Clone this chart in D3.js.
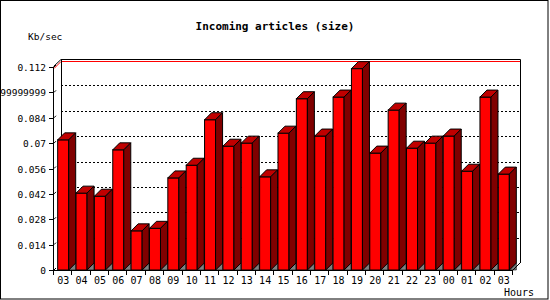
<!DOCTYPE html>
<html>
<head>
<meta charset="utf-8">
<script src="https://cdn.jsdelivr.net/npm/d3@7"></script>
<style>
  body { margin: 0; background: #fff; }
  svg { display: block; }
</style>
</head>
<body>
<div id="chart"></div>
<script>
// data
const hours = ["03","04","05","06","07","08","09","10","11","12","13","14","15",
               "16","17","18","19","20","21","22","23","00","01","02","03"];
const kbPerSec = [0.0718, 0.0424, 0.0407, 0.0663, 0.0216, 0.0230, 0.0508, 0.0578,
                  0.0829, 0.0683, 0.0700, 0.0514, 0.0755, 0.0945, 0.0739, 0.0954,
                  0.1111, 0.0645, 0.0882, 0.0672, 0.0700, 0.0739, 0.0545, 0.0954, 0.0529];
const tickValues = [0, 0.014, 0.028, 0.042, 0.056, 0.07, 0.084, 0.098, 0.112];
const tickLabels = ["0", "0.014", "0.028", "0.042", "0.056", "0.07", "0.084",
                    "0.09799999999999999", "0.112"];

const width = 550, height = 300;
const plotLeft = 54, plotRight = 513, plotTop = 67, plotBottom = 270;
const dx = 7, dy = 7;          // 3d depth offset
const mono = "'DejaVu Sans Mono', 'Liberation Mono', monospace";

const svg = d3.select("#chart").append("svg")
  .attr("width", width)
  .attr("height", height);

svg.append("rect")
  .attr("x", 0.5).attr("y", 0.5)
  .attr("width", width - 2.5).attr("height", height - 1.5)
  .attr("fill", "white").attr("stroke", "black");

const x = d3.scaleBand()
  .domain(d3.range(hours.length))
  .range([plotLeft, plotRight])
  .paddingInner(0.4)
  .paddingOuter(0.2);

const y = d3.scaleLinear()
  .domain([0, 0.112])
  .range([plotBottom, plotTop]);

// back wall
svg.append("rect")
  .attr("x", plotLeft + dx).attr("y", plotTop - dy)
  .attr("width", plotRight - plotLeft).attr("height", plotBottom - plotTop)
  .attr("fill", "white");

// dotted grid on the back wall
svg.selectAll("line.grid")
  .data(tickValues.slice(1, -1))
  .enter().append("line")
  .attr("x1", plotLeft + dx).attr("x2", plotRight + dx)
  .attr("y1", d => Math.round(y(d) - dy) + 0.5)
  .attr("y2", d => Math.round(y(d) - dy) + 0.5)
  .attr("stroke", "black")
  .attr("stroke-dasharray", "2,2");

// red max line
svg.append("polyline")
  .attr("points", [[plotLeft, plotTop + 1.5], [plotLeft + dx, plotTop - dy + 1.5],
                   [plotRight + dx, plotTop - dy + 1.5]].join(" "))
  .attr("fill", "none").attr("stroke", "red");

// wall borders
svg.append("polyline")
  .attr("points", [[plotLeft - 0.5, plotTop - 0.5], [plotLeft + dx, plotTop - dy - 0.5],
                   [plotRight + dx + 0.5, plotTop - dy - 0.5],
                   [plotRight + dx + 0.5, plotBottom - dy]].join(" "))
  .attr("fill", "none").attr("stroke", "black");
svg.append("line")
  .attr("x1", plotLeft + dx + 0.5).attr("x2", plotLeft + dx + 0.5)
  .attr("y1", plotTop - dy).attr("y2", plotBottom - dy)
  .attr("stroke", "black");

// bars
const bars = svg.selectAll("g.bar")
  .data(kbPerSec)
  .enter().append("g");

bars.append("polygon")
  .attr("points", (d, i) => {
    const x1 = x(i) + x.bandwidth();
    return [[x1, plotBottom], [x1 + dx, plotBottom - dy], [x1 + dx, plotBottom]].join(" ");
  })
  .attr("fill", "#808080").attr("stroke", "black").attr("stroke-width", 0.6);

bars.append("rect")
  .attr("x", (d, i) => x(i))
  .attr("y", d => y(d))
  .attr("width", x.bandwidth())
  .attr("height", d => plotBottom - y(d))
  .attr("fill", "#ff0000").attr("stroke", "black");

bars.append("polygon")
  .attr("points", (d, i) => {
    const x0 = x(i), x1 = x0 + x.bandwidth(), yt = y(d);
    return [[x0, yt], [x0 + dx, yt - dy], [x1 + dx, yt - dy], [x1, yt]].join(" ");
  })
  .attr("fill", "#c00000").attr("stroke", "black");

bars.append("polygon")
  .attr("points", (d, i) => {
    const x1 = x(i) + x.bandwidth(), yt = y(d);
    return [[x1, yt], [x1 + dx, yt - dy], [x1 + dx, plotBottom - dy], [x1, plotBottom]].join(" ");
  })
  .attr("fill", "#800000").attr("stroke", "black");

// floor edge at the right
svg.append("line")
  .attr("x1", plotRight).attr("y1", plotBottom)
  .attr("x2", plotRight + dx).attr("y2", plotBottom - dy)
  .attr("stroke", "black");

// y axis
svg.append("line")
  .attr("x1", plotLeft - 0.5).attr("x2", plotLeft - 0.5)
  .attr("y1", plotTop).attr("y2", plotBottom + 0.5)
  .attr("stroke", "black");
svg.selectAll("line.ytick")
  .data(tickValues)
  .enter().append("line")
  .attr("x1", plotLeft - 5).attr("x2", plotLeft)
  .attr("y1", d => Math.round(y(d)) + 0.5)
  .attr("y2", d => Math.round(y(d)) + 0.5)
  .attr("stroke", "black");
svg.selectAll("line.ydiag")
  .data(tickValues)
  .enter().append("line")
  .attr("x1", plotLeft).attr("x2", plotLeft + 2)
  .attr("y1", d => y(d)).attr("y2", d => y(d) - 2)
  .attr("stroke", "black");
svg.selectAll("text.ylab")
  .data(tickValues)
  .enter().append("text")
  .attr("x", plotLeft - 8)
  .attr("y", d => y(d) + 4)
  .attr("text-anchor", "end")
  .style("font-family", mono).style("font-size", "9.5px")
  .text((d, i) => tickLabels[i]);

// x axis
svg.append("line")
  .attr("x1", plotLeft - 1).attr("x2", plotRight)
  .attr("y1", plotBottom + 0.5).attr("y2", plotBottom + 0.5)
  .attr("stroke", "black");
svg.selectAll("line.xtick")
  .data(d3.range(hours.length + 1))
  .enter().append("line")
  .attr("x1", i => Math.round(plotLeft + i * x.step()) - 0.5)
  .attr("x2", i => Math.round(plotLeft + i * x.step()) - 0.5)
  .attr("y1", plotBottom).attr("y2", plotBottom + 5)
  .attr("stroke", "black");
svg.selectAll("text.xlab")
  .data(hours)
  .enter().append("text")
  .attr("x", (d, i) => x(i) + x.bandwidth() / 2)
  .attr("y", 284)
  .attr("text-anchor", "middle")
  .style("font-family", mono).style("font-size", "10px")
  .text(d => d);

// titles
svg.append("text")
  .attr("x", 275).attr("y", 30)
  .attr("text-anchor", "middle")
  .style("font-family", mono).style("font-size", "11px").style("font-weight", "bold")
  .text("Incoming articles (size)");
svg.append("text")
  .attr("x", 28).attr("y", 40)
  .style("font-family", mono).style("font-size", "9.5px")
  .text("Kb/sec");
svg.append("text")
  .attr("x", 504).attr("y", 296)
  .style("font-family", mono).style("font-size", "10px")
  .text("Hours");
</script>
</body>
</html>
